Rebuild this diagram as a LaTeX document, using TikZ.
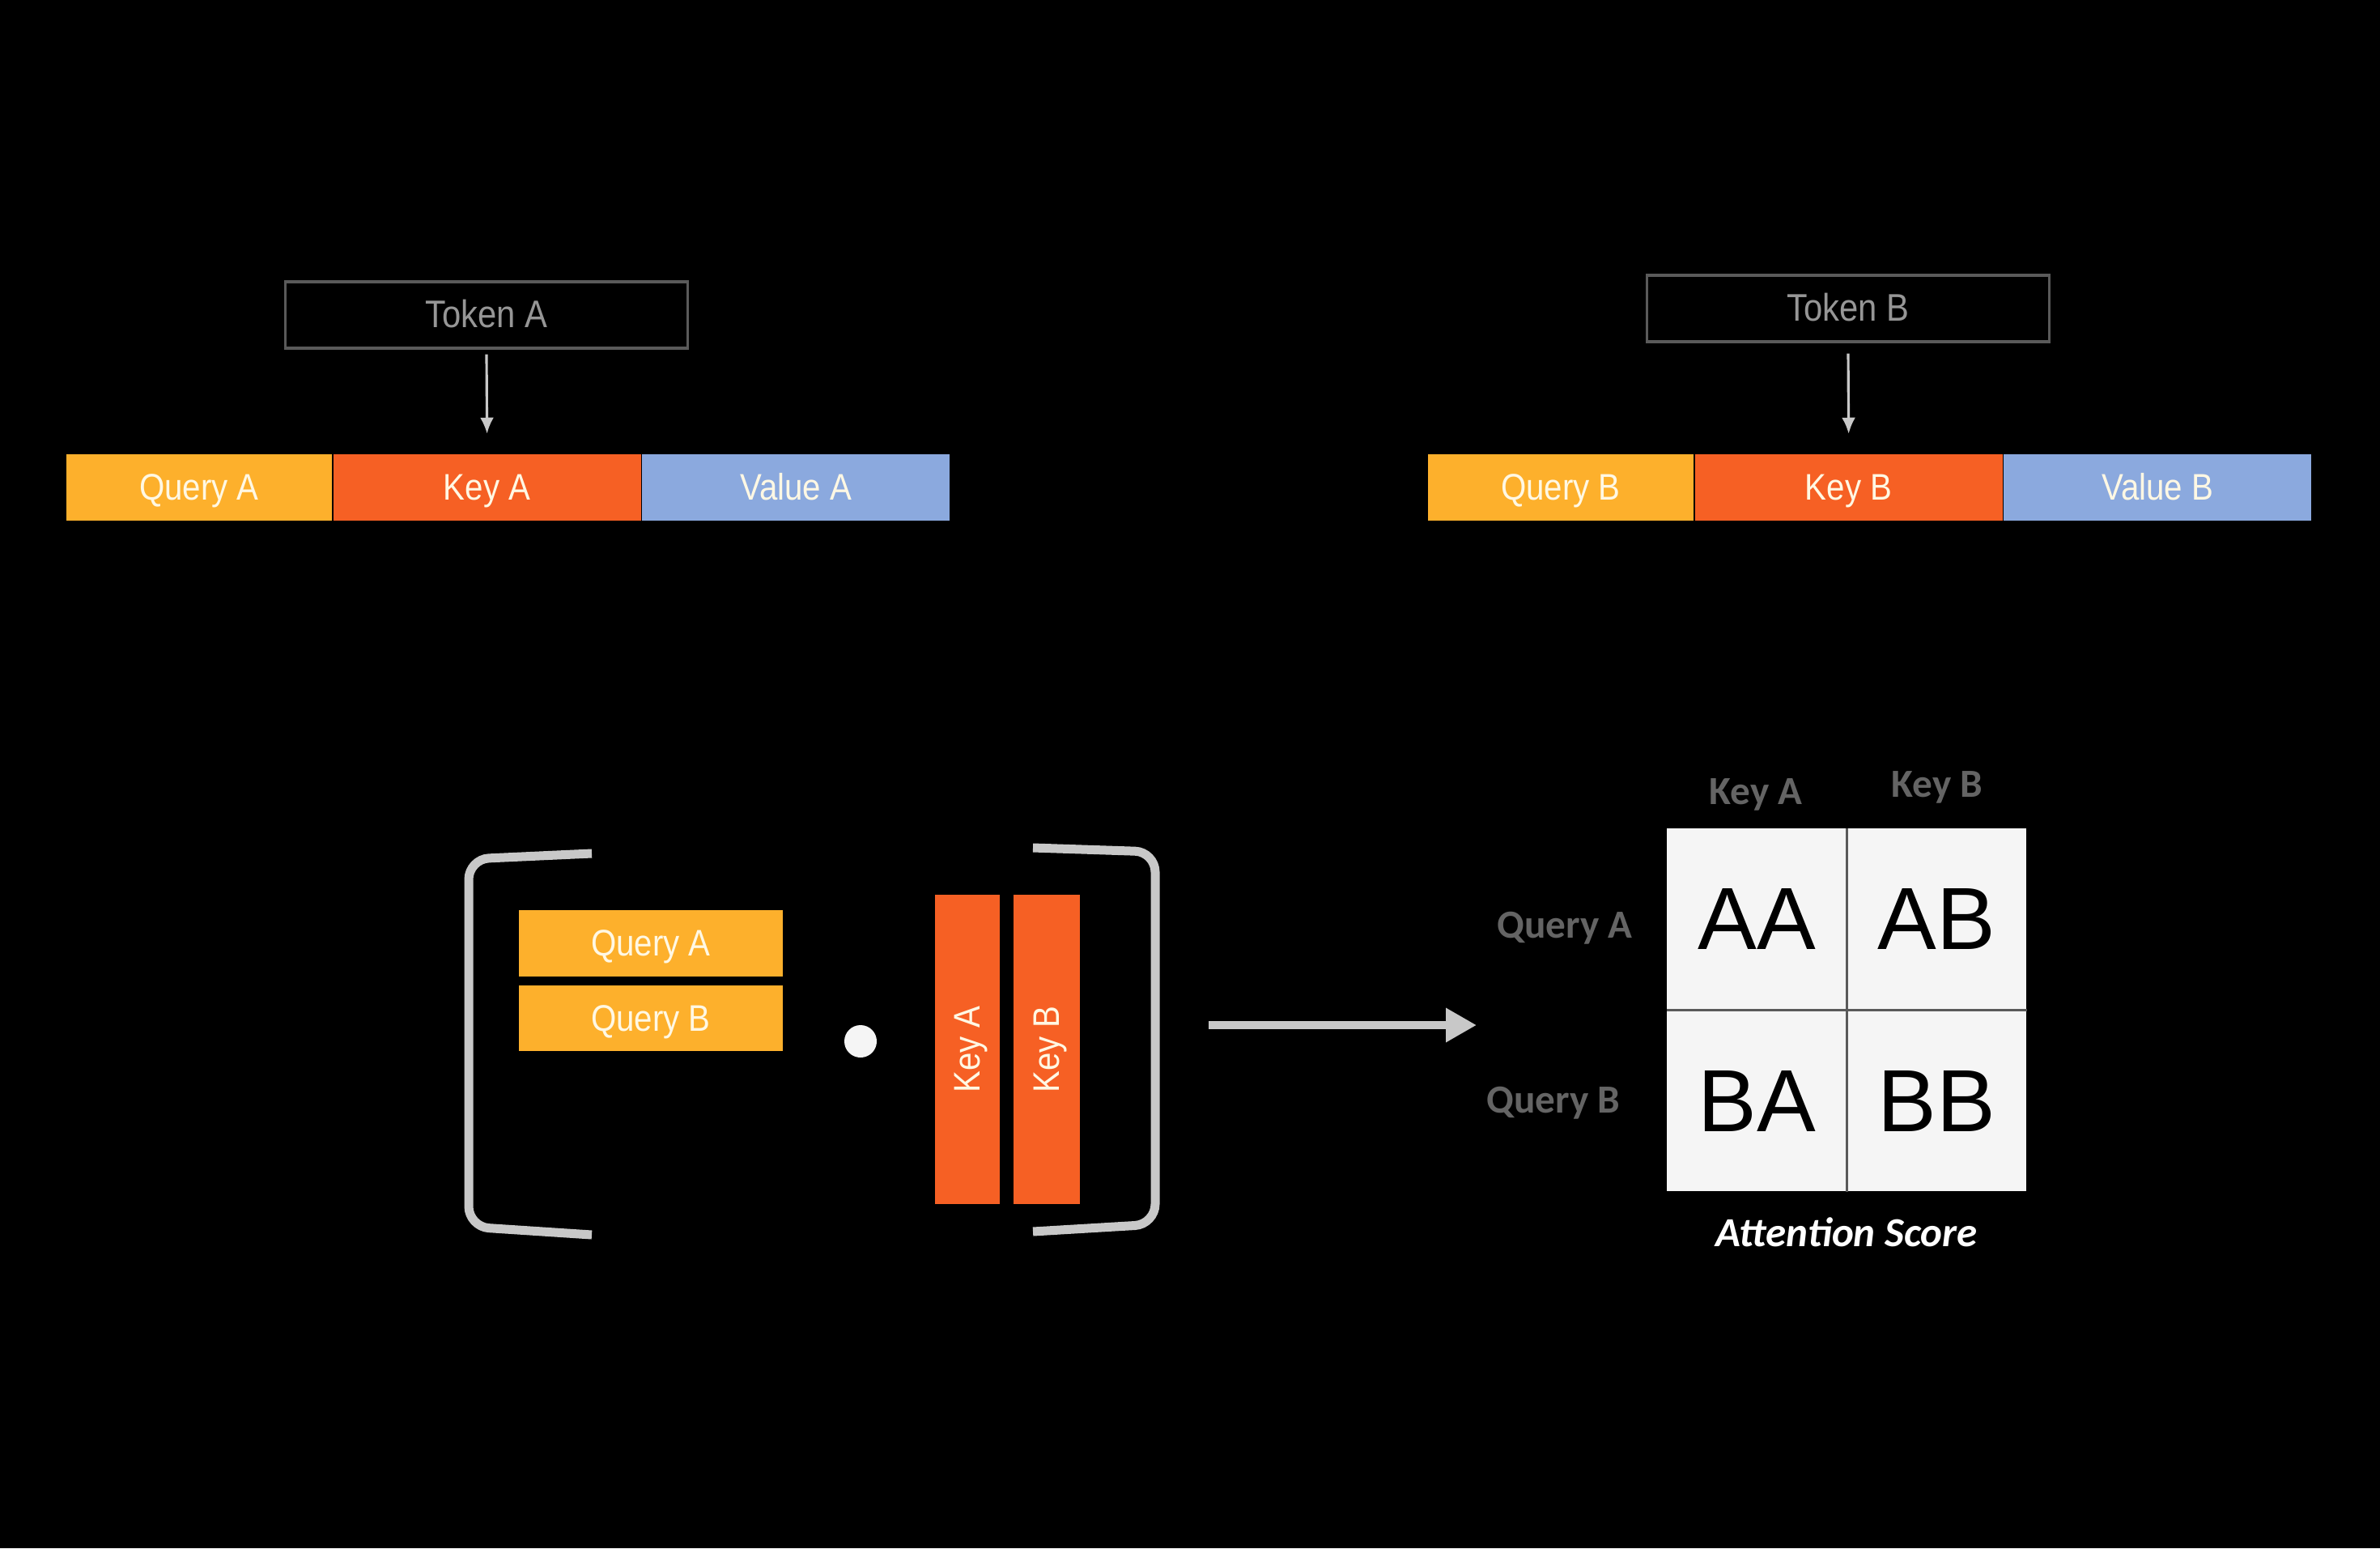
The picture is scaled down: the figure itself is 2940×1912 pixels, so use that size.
\documentclass[tikz,border=0pt]{standalone}
\usepackage{fontspec}
\usepackage{tikz}
\usetikzlibrary{arrows.meta,positioning}
\newfontfamily\narrowsf[FakeStretch=0.88]{Liberation Sans}
\newfontfamily\cellsf{Liberation Sans}
\newfontfamily\labelsf{Carlito}
\definecolor{QueryGold}{RGB}{253,176,44}
\definecolor{KeyOrange}{RGB}{246,96,36}
\definecolor{ValueBlue}{RGB}{139,169,222}
\definecolor{BarText}{RGB}{255,248,228}
\definecolor{TokenGray}{RGB}{150,150,150}
\definecolor{TokenLine}{RGB}{90,90,90}
\definecolor{BracketGray}{RGB}{200,200,200}
\definecolor{LabelGray}{RGB}{100,100,100}
\definecolor{CellWhite}{RGB}{245,245,245}
\tikzset{
  token/.style={draw=TokenLine,line width=0.9pt,minimum width=4.96cm,
    minimum height=0.82cm,inner sep=0pt,text=TokenGray,
    text height=0.9em,text depth=0pt,
    font=\narrowsf\fontsize{13.5pt}{16pt}\selectfont},
  bar/.style={minimum height=0.81cm,inner sep=0pt,text=BarText,
    text height=0.9em,text depth=0pt,
    font=\narrowsf\fontsize{13pt}{16pt}\selectfont},
  qbar/.style={bar,fill=QueryGold,minimum width=3.28cm},
  kbar/.style={bar,fill=KeyOrange,minimum width=3.80cm},
  vbar/.style={bar,fill=ValueBlue,minimum width=3.80cm},
  feed/.style={-{Latex[length=0.2cm,width=0.17cm]},line width=0.9pt,
    draw=BracketGray},
  bracket/.style={draw=BracketGray,line width=0.11cm,rounded corners=0.25cm},
  cell/.style={fill=CellWhite,minimum width=2.21cm,minimum height=2.23cm,
    inner sep=0pt,font=\cellsf\fontsize{31pt}{36pt}\selectfont},
  grid/.style={draw=TokenLine,line width=0.8pt},
  axis/.style={text=LabelGray,font=\labelsf\bfseries\fontsize{14pt}{17pt}\selectfont}
}
\begin{document}
\begin{tikzpicture}[x=0.01cm,y=-0.01cm]

% background
\fill[black] (0,0) rectangle (2940,1912);
\useasboundingbox (0,0) rectangle (2940,1912);

% token A and its vectors
\node[token] (tokA) at (601,389) {Token A};
\node[qbar] (qA) at (246,602) {Query A};
\node[kbar,right=0pt of qA] (kA) {Key A};
\node[vbar,right=0pt of kA] (vA) {Value A};
\draw[feed] ([yshift=-0.06cm]tokA.south) -- ([yshift=0.25cm]kA.north);

% token B and its vectors
\node[token] (tokB) at (2283,381) {Token B};
\node[qbar] (qB) at (1928,602) {Query B};
\node[kbar,right=0pt of qB] (kB) {Key B};
\node[vbar,right=0pt of kB] (vB) {Value B};
\draw[feed] ([yshift=-0.13cm]tokB.south) -- ([yshift=0.25cm]kB.north);

% brackets
\draw[bracket] (731,1054) -- (579,1061) -- (579,1515) -- (731,1525);
\draw[bracket] (1276,1047) -- (1427,1052) -- (1427,1512) -- (1276,1521);

% queries times keys
\node[bar,fill=QueryGold,minimum width=3.26cm] (qrowA) at (804,1165) {Query A};
\node[bar,fill=QueryGold,minimum width=3.26cm,below=0.1cm of qrowA] (qrowB) {Query B};
\node[circle,fill=CellWhite,minimum size=0.4cm,inner sep=0pt] (dot) at (1063,1286) {};
\node[bar,fill=KeyOrange,rotate=90,minimum width=3.81cm,minimum height=0.80cm]
  (kcolA) at (1195,1296) {Key A};
\node[bar,fill=KeyOrange,rotate=90,minimum width=3.81cm,minimum height=0.82cm]
  (kcolB) at (1293,1296) {Key B};

% result arrow
\coordinate (prodout) at (1493,1266);
\coordinate (scorein) at (1824,1266);
\draw[-{Triangle[length=0.38cm,width=0.4cm]},line width=0.1cm,BracketGray]
  (prodout) -- (scorein);

% attention score matrix
\node[cell] (aa) at (2170,1135) {AA};
\node[cell,right=0pt of aa] (ab) {AB};
\node[cell,below=0pt of aa] (ba) {BA};
\node[cell,right=0pt of ba] (bb) {BB};
\draw[grid] (ab.north west) -- (bb.south west);
\draw[grid] (ba.north west) -- (bb.north east);

\node[axis] (colA) at (2169,981) {Key A};
\node[axis] (colB) at (2393,972) {Key B};
\node[axis] (rowA) at (1933,1146) {Query A};
\node[axis] (rowB) at (1919,1362) {Query B};
\node[text=white,font=\labelsf\bfseries\itshape\fontsize{14.5pt}{17pt}\selectfont]
  (title) at (2281,1522) {Attention Score};

\end{tikzpicture}
\end{document}
